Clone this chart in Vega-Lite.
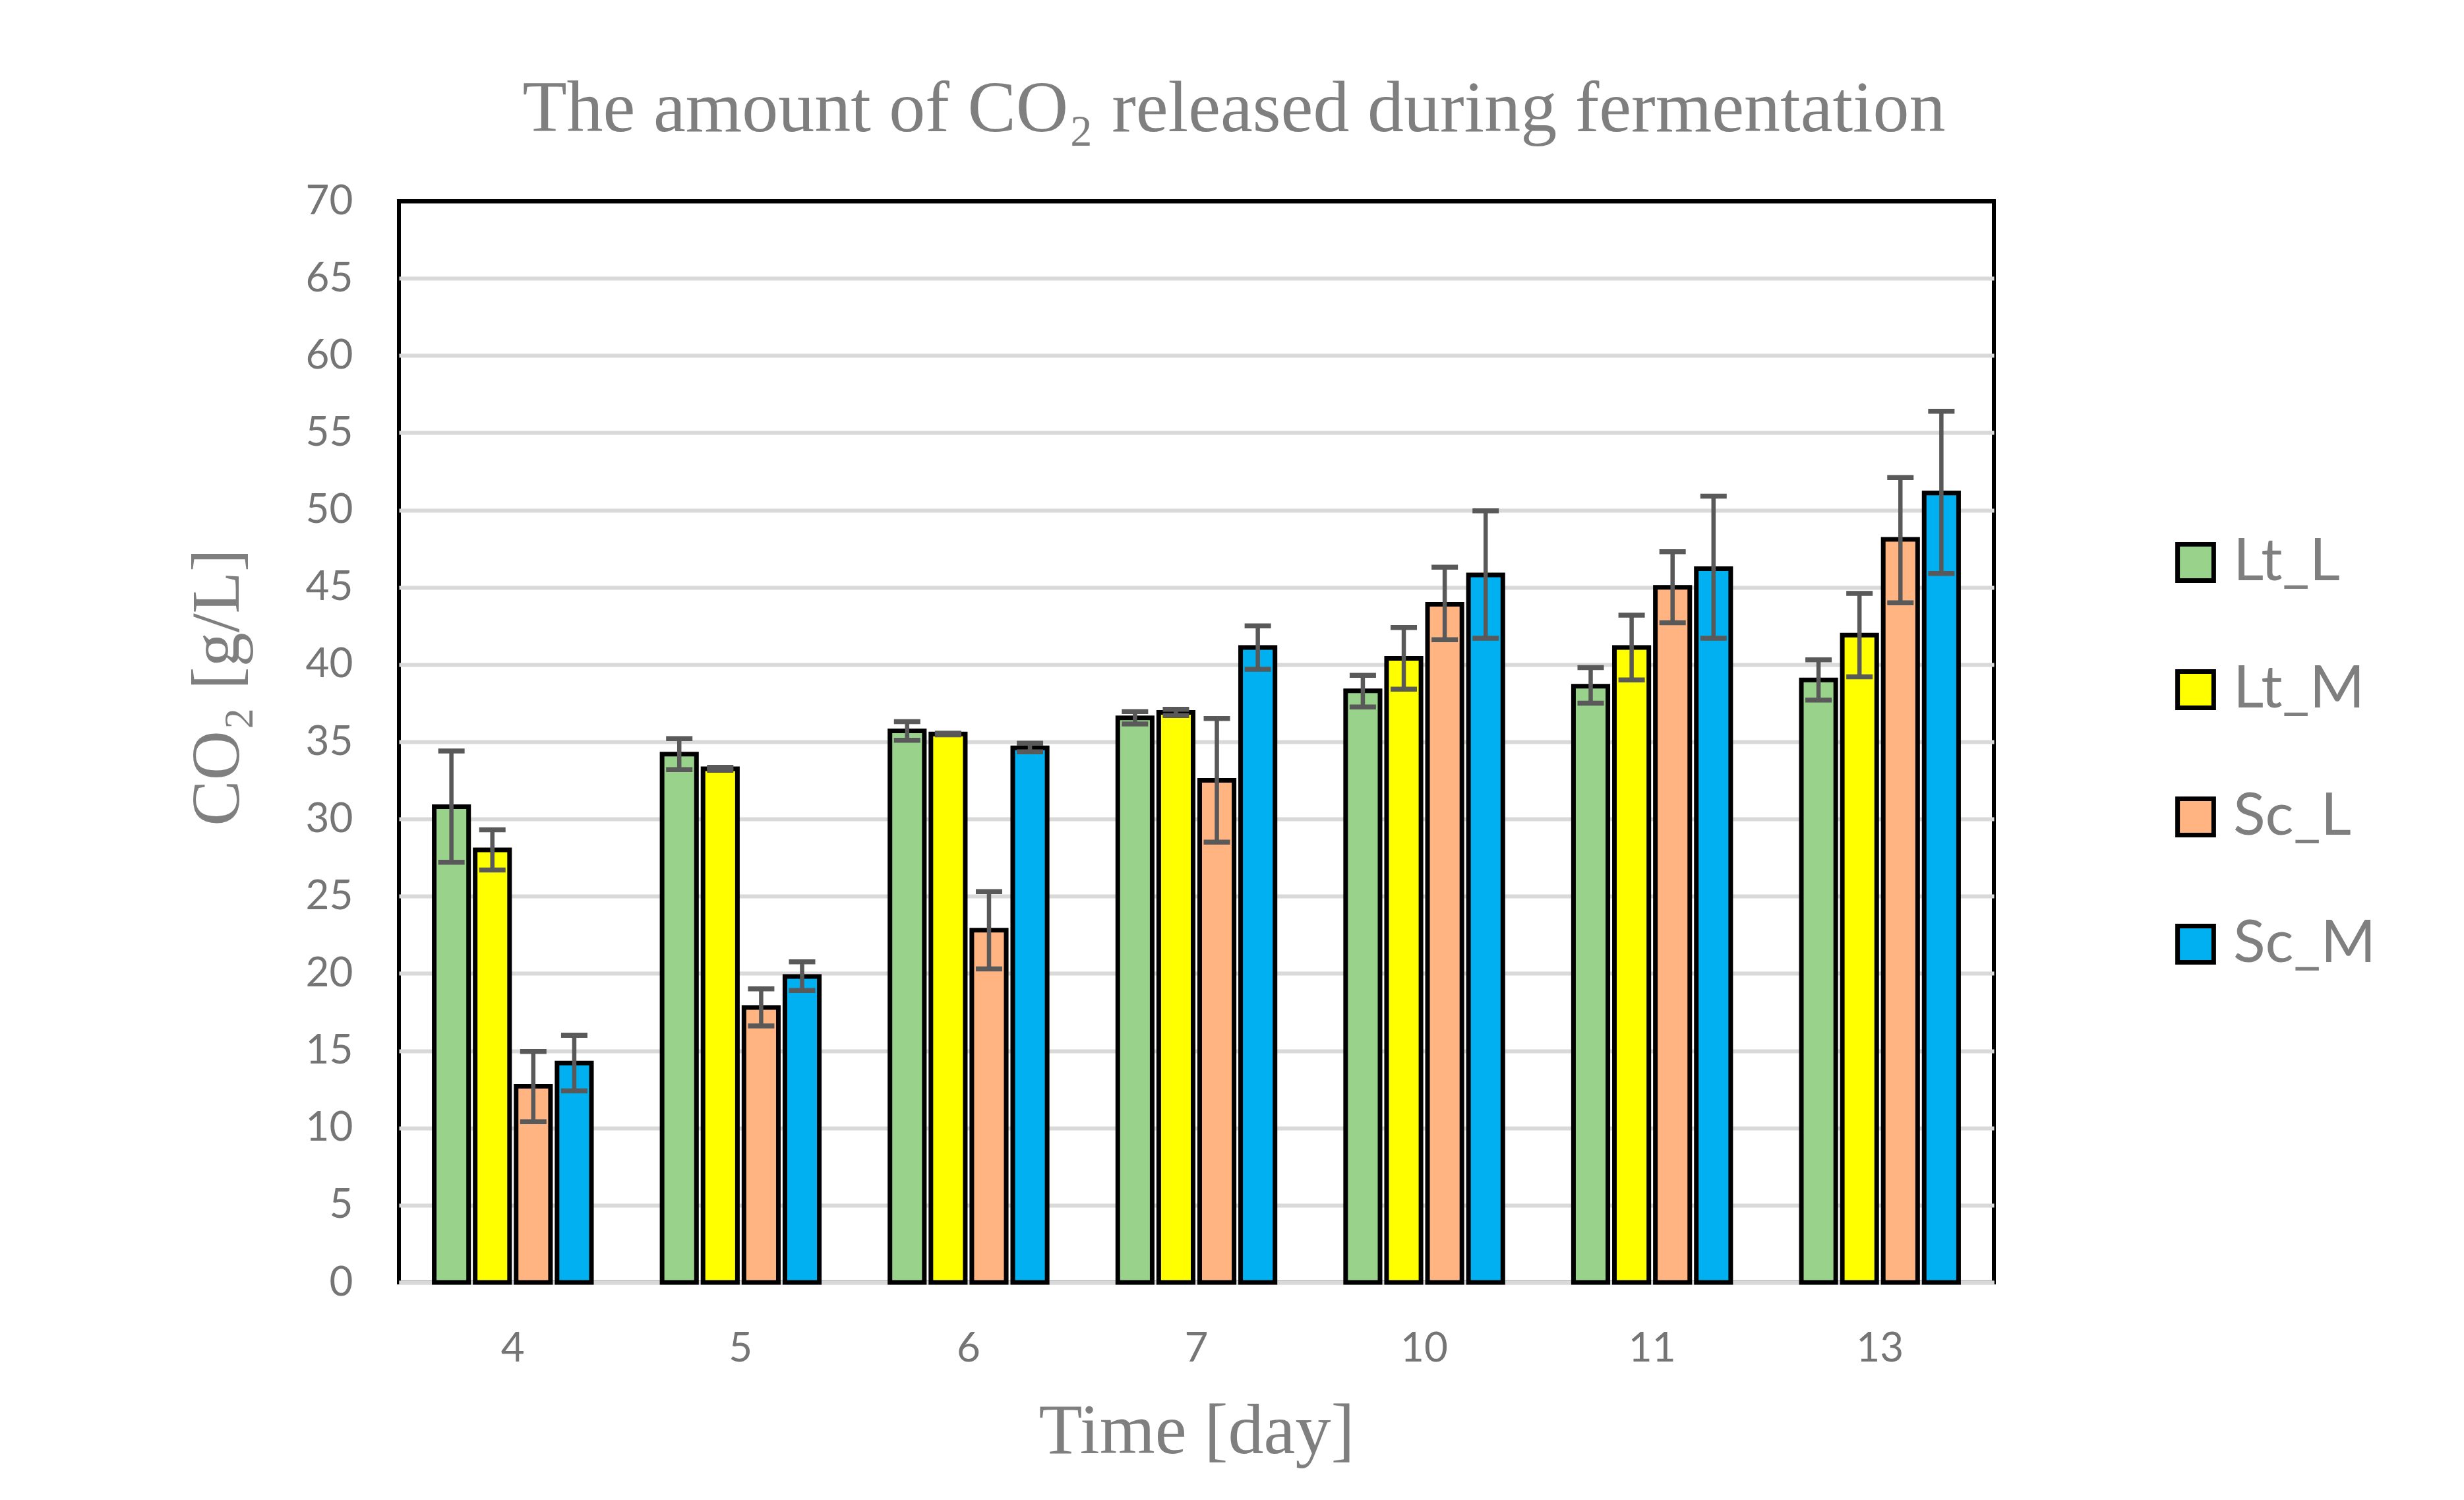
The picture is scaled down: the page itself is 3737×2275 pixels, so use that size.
{
  "$schema": "https://vega.github.io/schema/vega-lite/v6.json",
  "autosize": "none",
  "width": 2419,
  "height": 1640,
  "padding": {"left": 605, "top": 305, "right": 713, "bottom": 330},
  "background": "white",
  "title": {
    "text": "The amount of CO₂ released during fermentation",
    "font": "Liberation Serif",
    "fontSize": 110,
    "fontWeight": "normal",
    "color": "#7f7f7f",
    "anchor": "middle",
    "frame": "group",
    "dx": 57,
    "offset": 52
  },
  "data": {
    "values": [
      {"day": "4", "series": "Lt_L", "value": 30.8, "lo": 27.2, "hi": 34.4},
      {"day": "4", "series": "Lt_M", "value": 28.0, "lo": 26.7, "hi": 29.3},
      {"day": "4", "series": "Sc_L", "value": 12.7, "lo": 10.4, "hi": 14.95},
      {"day": "4", "series": "Sc_M", "value": 14.2, "lo": 12.4, "hi": 16.0},
      {"day": "5", "series": "Lt_L", "value": 34.2, "lo": 33.2, "hi": 35.2},
      {"day": "5", "series": "Lt_M", "value": 33.25, "lo": 33.15, "hi": 33.35},
      {"day": "5", "series": "Sc_L", "value": 17.8, "lo": 16.6, "hi": 19.0},
      {"day": "5", "series": "Sc_M", "value": 19.8, "lo": 18.9, "hi": 20.75},
      {"day": "6", "series": "Lt_L", "value": 35.7, "lo": 35.1, "hi": 36.3},
      {"day": "6", "series": "Lt_M", "value": 35.5, "lo": 35.45, "hi": 35.55},
      {"day": "6", "series": "Sc_L", "value": 22.8, "lo": 20.3, "hi": 25.3},
      {"day": "6", "series": "Sc_M", "value": 34.6, "lo": 34.35, "hi": 34.9},
      {"day": "7", "series": "Lt_L", "value": 36.55, "lo": 36.15, "hi": 36.95},
      {"day": "7", "series": "Lt_M", "value": 36.9, "lo": 36.7, "hi": 37.1},
      {"day": "7", "series": "Sc_L", "value": 32.5, "lo": 28.5, "hi": 36.5},
      {"day": "7", "series": "Sc_M", "value": 41.1, "lo": 39.7, "hi": 42.5},
      {"day": "10", "series": "Lt_L", "value": 38.3, "lo": 37.25, "hi": 39.3},
      {"day": "10", "series": "Lt_M", "value": 40.4, "lo": 38.4, "hi": 42.4},
      {"day": "10", "series": "Sc_L", "value": 43.9, "lo": 41.6, "hi": 46.3},
      {"day": "10", "series": "Sc_M", "value": 45.8, "lo": 41.7, "hi": 49.95},
      {"day": "11", "series": "Lt_L", "value": 38.6, "lo": 37.5, "hi": 39.8},
      {"day": "11", "series": "Lt_M", "value": 41.1, "lo": 39.0, "hi": 43.2},
      {"day": "11", "series": "Sc_L", "value": 45.0, "lo": 42.7, "hi": 47.3},
      {"day": "11", "series": "Sc_M", "value": 46.2, "lo": 41.7, "hi": 50.9},
      {"day": "13", "series": "Lt_L", "value": 39.0, "lo": 37.7, "hi": 40.3},
      {"day": "13", "series": "Lt_M", "value": 41.9, "lo": 39.2, "hi": 44.6},
      {"day": "13", "series": "Sc_L", "value": 48.1, "lo": 44.0, "hi": 52.1},
      {"day": "13", "series": "Sc_M", "value": 51.1, "lo": 45.9, "hi": 56.4}
    ]
  },
  "encoding": {
    "x": {
      "field": "day",
      "type": "ordinal",
      "sort": ["4", "5", "6", "7", "10", "11", "13"],
      "scale": {"paddingInner": 0.31, "paddingOuter": 0.155},
      "axis": {
        "title": "Time [day]",
        "labelAngle": 0,
        "labelFont": "Lato",
        "labelFontSize": 62,
        "labelColor": "#757575",
        "labelPadding": 70,
        "ticks": false,
        "tickSize": 0,
        "domainColor": "#d9d9d9",
        "domainWidth": 6,
        "grid": false,
        "titleFont": "Liberation Serif",
        "titleFontSize": 108,
        "titleFontWeight": "normal",
        "titleColor": "#7f7f7f",
        "titlePadding": 42
      }
    },
    "xOffset": {
      "field": "series",
      "type": "nominal",
      "sort": ["Lt_L", "Lt_M", "Sc_L", "Sc_M"],
      "scale": {"paddingInner": 0.16, "paddingOuter": 0}
    }
  },
  "layer": [
    {
      "mark": {"type": "bar", "stroke": "black", "strokeWidth": 7},
      "encoding": {
        "y": {
          "field": "value",
          "type": "quantitative",
          "scale": {"domain": [0, 70], "nice": false},
          "axis": {
            "title": "CO₂ [g/L]",
            "values": [0, 5, 10, 15, 20, 25, 30, 35, 40, 45, 50, 55, 60, 65, 70],
            "labelFont": "Lato",
            "labelFontSize": 62,
            "labelColor": "#757575",
            "labelPadding": 70,
            "ticks": false,
            "tickSize": 0,
            "domain": false,
            "grid": true,
            "gridColor": {"condition": {"test": "datum.value == 70", "value": "black"}, "value": "#d9d9d9"},
            "gridWidth": 6,
            "titleFont": "Liberation Serif",
            "titleFontSize": 104,
            "titleFontWeight": "normal",
            "titleColor": "#7f7f7f",
            "titlePadding": 80,
            "titleY": 737
          }
        },
        "color": {
          "field": "series",
          "type": "nominal",
          "sort": ["Lt_L", "Lt_M", "Sc_L", "Sc_M"],
          "scale": {
            "domain": ["Lt_L", "Lt_M", "Sc_L", "Sc_M"],
            "range": ["#98d28b", "#ffff00", "#ffb482", "#00b0f0"]
          },
          "legend": {
            "title": null,
            "orient": "none",
            "legendX": 2680,
            "legendY": 503,
            "direction": "vertical",
            "symbolType": "square",
            "symbolSize": 3000,
            "symbolStrokeColor": "black",
            "symbolStrokeWidth": 7,
            "symbolOpacity": 1,
            "labelFont": "Lato",
            "labelFontSize": 90,
            "labelColor": "#7f7f7f",
            "labelOffset": 12,
            "rowPadding": 103,
            "labelLimit": 0
          }
        }
      }
    },
    {
      "mark": {"type": "rule", "color": "#595959", "strokeWidth": 6.5},
      "encoding": {
        "y": {"field": "lo", "type": "quantitative"},
        "y2": {"field": "hi"}
      }
    },
    {
      "mark": {"type": "tick", "color": "#595959", "size": 40, "thickness": 7.5, "opacity": 1},
      "encoding": {
        "y": {"field": "lo", "type": "quantitative"}
      }
    },
    {
      "mark": {"type": "tick", "color": "#595959", "size": 40, "thickness": 7.5, "opacity": 1},
      "encoding": {
        "y": {"field": "hi", "type": "quantitative"}
      }
    }
  ],
  "config": {
    "view": {"stroke": "black", "strokeWidth": 6}
  }
}
